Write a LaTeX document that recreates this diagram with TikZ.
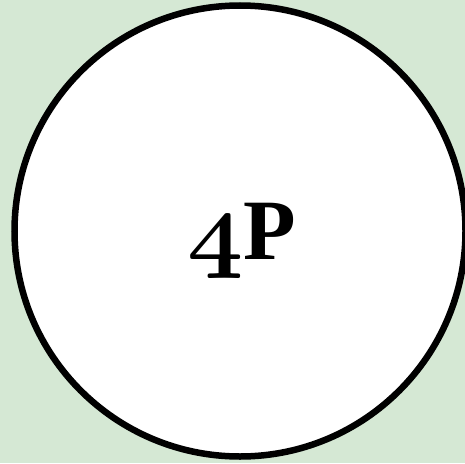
\RequirePackage{fix-cm}
\documentclass[tikz,border=0pt]{standalone}
\usepackage{fontspec}
\setmainfont{Liberation Serif}
\definecolor{BgGreen}{RGB}{213,232,212}
\usetikzlibrary{positioning}
\newcommand{\oldfour}{{\fontsize{98}{98}\usefont{OML}{cmm}{b}{it}4}}

\begin{document}
\begin{tikzpicture}[x=1pt,y=-1pt,
        ring/.style={draw=black,fill=white,line width=6.5pt,circle,minimum size=451pt,inner sep=0pt},
        lbl/.style={font=\fontsize{86}{86}\selectfont\bfseries}]
        % background
        \fill[BgGreen] (0,0) rectangle (465,463);
        \useasboundingbox (0,0) rectangle (465,463);
        \node[ring] (disc) at (240,231) {};
        \node[lbl,anchor=base] (name) at (242,259) {\oldfour\bfseries P};
      \end{tikzpicture}
\end{document}
